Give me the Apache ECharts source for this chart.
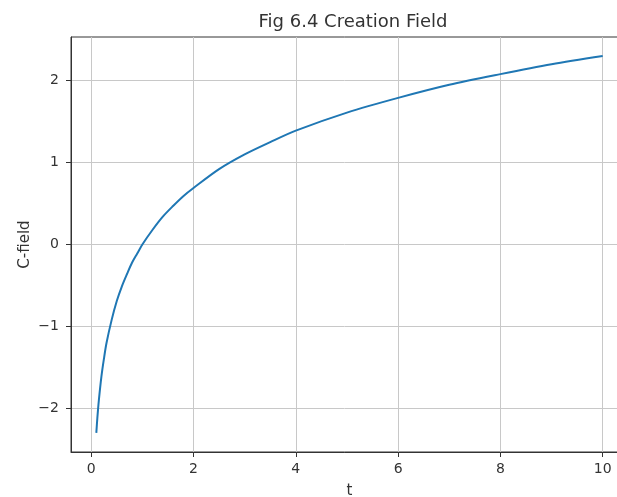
<!DOCTYPE html>
<html>
<head>
<meta charset="utf-8">
<script src="https://cdn.jsdelivr.net/npm/echarts@6/dist/echarts.min.js"></script>
<style>
  html, body { margin: 0; padding: 0; background: #fff; overflow: hidden; }
  #chart { width: 617px; height: 497px; }
</style>
</head>
<body>
<div id="chart"></div>
<script>
// values
const tValues = [0.1, 0.12, 0.15, 0.2, 0.25, 0.3, 0.4, 0.5, 0.6, 0.7, 0.8, 0.9, 1, 1.2, 1.4, 1.6, 1.8, 2, 2.5, 3, 3.5, 4, 5, 6, 7, 8, 9, 10];
const cValues = [-2.3, -2.12, -1.9, -1.61, -1.39, -1.2, -0.92, -0.69, -0.51, -0.36, -0.22, -0.11, 0, 0.18, 0.34, 0.47, 0.59, 0.69, 0.92, 1.1, 1.25, 1.39, 1.61, 1.79, 1.95, 2.08, 2.2, 2.3];
const xTicks = [0, 2, 4, 6, 8, 10];
const yTicks = [-2, -1, 0, 1, 2];

const font = 'DejaVu Sans';
const points = tValues.map((t, i) => [t, cValues[i]]);

const chart = echarts.init(document.getElementById('chart'));
chart.setOption({
  animation: false,
  title: {
    text: 'Fig 6.4 Creation Field',
    left: 348,
    textAlign: 'center',
    top: 8,
    textStyle: { fontFamily: font, fontSize: 18, fontWeight: 'normal', color: '#333' }
  },
  grid: {
    left: 71, top: 37, width: 557, bottom: 45,
    outerBoundsMode: 'none',
    containLabel: false,
    show: true, borderColor: '#333', borderWidth: 1
  },
  xAxis: {
    type: 'value',
    min: -0.395,
    max: 10.495,
    name: 't',
    nameLocation: 'middle',
    nameGap: 32,
    nameTextStyle: { fontFamily: font, fontSize: 15, color: '#333' },
    axisLine: { show: true, onZero: false, lineStyle: { color: '#333' } },
    axisTick: { show: true, length: 5, customValues: xTicks, lineStyle: { color: '#333' } },
    axisLabel: { customValues: xTicks, fontFamily: font, fontSize: 14, color: '#333', margin: 10 },
    splitLine: { show: true, lineStyle: { color: '#c8c8c8', width: 1 } }
  },
  yAxis: {
    type: 'value',
    min: -2.533,
    max: 2.533,
    name: 'C-field',
    nameLocation: 'middle',
    nameGap: 38,
    nameMoveOverlap: false,
    nameRotate: 90,
    nameTextStyle: { fontFamily: font, fontSize: 15, color: '#333' },
    axisLine: { show: true, onZero: false, lineStyle: { color: '#333' } },
    axisTick: { show: true, length: 5, customValues: yTicks, lineStyle: { color: '#333' } },
    axisLabel: {
      customValues: yTicks, fontFamily: font, fontSize: 14, color: '#333', margin: 12,
      formatter: v => (v < 0 ? '\u2212' + Math.abs(v) : String(v))
    },
    splitLine: { show: true, lineStyle: { color: '#c8c8c8', width: 1 } }
  },
  series: [{
    type: 'line',
    data: points,
    smooth: 0.3,
    showSymbol: false,
    lineStyle: { color: '#1f77b4', width: 2 }
  }]
});
</script>
</body>
</html>
